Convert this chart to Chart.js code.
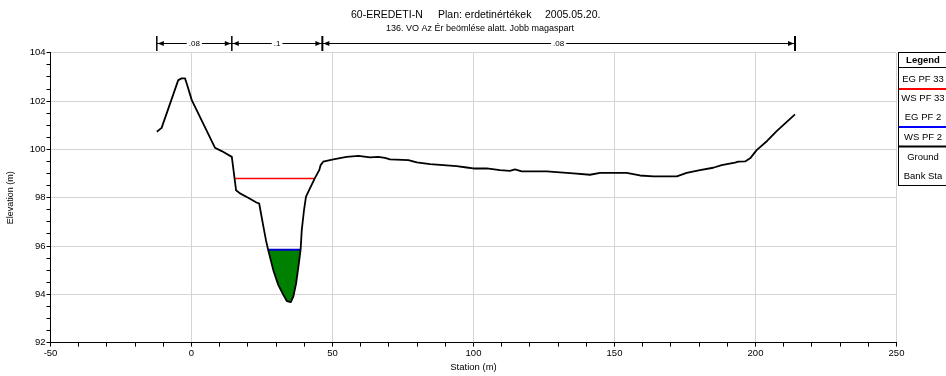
<!DOCTYPE html>
<html><head><meta charset="utf-8">
<script src="https://cdn.jsdelivr.net/npm/chart.js@4/dist/chart.umd.min.js"></script>
<style>html,body{margin:0;padding:0;background:#fff;overflow:hidden}#wrap{width:946px;height:376px;position:relative}</style>
</head><body><div id="wrap"><canvas id="c" width="946" height="376"></canvas></div>
<script>
// ---- data ----
const titleMain = ['60-EREDETI-N', 'Plan: erdetinértékek', '2005.05.20.'];
const titleSub = '136. VO Az Ér beömlése alatt. Jobb magaspart';
const xAxisTitle = 'Station (m)';
const yAxisTitle = 'Elevation (m)';

const groundSta = [-12.3, -10.6, -4.7, -3.5, -2.3, -1.7, 0.1, 8.3, 10.7, 14.3, 15.8, 17.2, 20.1, 22.9, 24.0,
  25.5, 26.4, 27.2, 29.0, 30.8, 32.6, 33.8, 35.2, 36.1, 37.1, 37.9, 38.7, 39.1, 39.9, 40.6, 42.0, 43.8, 45.3,
  45.8, 46.7, 50.3, 55.0, 59.2, 63.3, 66.2, 68.6, 70.4, 76.9, 79.9, 84.6, 89.3, 94.0, 97.6, 99.9, 104.7, 109.4,
  112.9, 114.7, 117.1, 126.0, 135.4, 141.3, 144.9, 154.3, 159.0, 163.8, 172.1, 175.6, 180.3, 185.0, 188.0,
  192.7, 193.9, 196.3, 198.1, 200.4, 204.2, 207.5, 214.0];
const groundElev = [100.73, 100.89, 102.87, 102.94, 102.94, 102.73, 102.04, 100.07, 99.93, 99.69, 98.31, 98.18,
  98.00, 97.81, 97.76, 96.80, 96.24, 95.83, 95.00, 94.38, 93.97, 93.72, 93.68, 93.90, 94.45, 95.14, 95.86, 96.66,
  97.49, 98.04, 98.39, 98.82, 99.14, 99.35, 99.49, 99.59, 99.69, 99.73, 99.67, 99.69, 99.65, 99.59, 99.56, 99.46,
  99.39, 99.35, 99.31, 99.25, 99.21, 99.21, 99.14, 99.11, 99.17, 99.09, 99.09, 99.01, 98.95, 99.03, 99.03, 98.92,
  98.88, 98.88, 99.03, 99.14, 99.24, 99.35, 99.45, 99.49, 99.50, 99.63, 99.97, 100.36, 100.76, 101.45];

// wetted channel under WS PF 2
const channelSta = [27.2, 29.0, 30.8, 32.6, 33.8, 35.2, 36.1, 37.1, 37.9, 38.7];
const channelElev = [95.84, 95.00, 94.38, 93.97, 93.72, 93.68, 93.90, 94.45, 95.14, 95.84];

const egPF33Sta = [15.5, 43.8];
const egPF33Elev = [98.8, 98.8];
const wsPF2Sta = [27.2, 38.7];
const wsPF2Elev = [95.84, 95.84];

const nBreaks = [-12.3, 14.3, 46.4, 214.0];
const nValues = ['.08', '.1', '.08'];

const legendTitle = 'Legend';
const legendLabels = ['EG PF 33', 'WS PF 33', 'EG PF 2', 'WS PF 2', 'Ground', 'Bank Sta'];

const xTickValues = [-50, -40, -30, -20, -10, 0, 10, 20, 30, 40, 50, 60, 70, 80, 90, 100, 110, 120, 130, 140, 150,
  160, 170, 180, 190, 200, 210, 220, 230, 240, 250];
const xMajorTicks = [-50, 0, 50, 100, 150, 200, 250];
const yTickValues = [92, 92.5, 93, 93.5, 94, 94.5, 95, 95.5, 96, 96.5, 97, 97.5, 98, 98.5, 99, 99.5, 100, 100.5,
  101, 101.5, 102, 102.5, 103, 103.5, 104];
const yMajorTicks = [92, 94, 96, 98, 100, 102, 104];

// ---- helpers ----
const pts = (xs, ys) => xs.map((x, i) => ({ x: x, y: ys[i] }));
const FONT = '"Liberation Sans", Arial, sans-serif';

const decor = {
  id: 'decor',
  beforeDraw(chart) {
    const c = chart.ctx; c.save(); c.fillStyle = '#fff'; c.fillRect(0, 0, chart.width, chart.height); c.restore();
  },
  afterDraw(chart) {
    const ctx = chart.ctx, xs = chart.scales.x;
    ctx.save();
    ctx.fillStyle = '#000';
    ctx.textBaseline = 'middle';
    // title
    ctx.font = '10.5px ' + FONT;
    ctx.textAlign = 'left';
    const tx = [351, 438, 545];
    titleMain.forEach((t, i) => ctx.fillText(t, tx[i], 15));
    ctx.font = '9px ' + FONT;
    ctx.textAlign = 'center';
    ctx.fillText(titleSub, 480, 29);

    // Manning's n brackets
    const ay = 43.5;
    const px = nBreaks.map(v => xs.getPixelForValue(v));
    ctx.strokeStyle = '#000';
    px.forEach((p, i) => {
      ctx.lineWidth = (i >= 2) ? 2 : 1.5;
      ctx.beginPath(); ctx.moveTo(p, 36); ctx.lineTo(p, 51); ctx.stroke();
    });
    ctx.font = '8px ' + FONT;
    for (let i = 0; i < nValues.length; i++) {
      const a = px[i], b = px[i + 1];
      ctx.lineWidth = 1;
      ctx.beginPath(); ctx.moveTo(a, ay); ctx.lineTo(b, ay); ctx.stroke();
      ctx.beginPath(); ctx.moveTo(a + 1, ay); ctx.lineTo(a + 7, ay - 2.5); ctx.lineTo(a + 7, ay + 2.5); ctx.closePath(); ctx.fill();
      ctx.beginPath(); ctx.moveTo(b - 1, ay); ctx.lineTo(b - 7, ay - 2.5); ctx.lineTo(b - 7, ay + 2.5); ctx.closePath(); ctx.fill();
      const m = (a + b) / 2, w = ctx.measureText(nValues[i]).width;
      ctx.fillStyle = '#fff'; ctx.fillRect(m - w / 2 - 2, ay - 4, w + 4, 8);
      ctx.fillStyle = '#000'; ctx.fillText(nValues[i], m, ay + 0.5);
    }

    // legend box
    ctx.lineWidth = 1;
    ctx.strokeStyle = '#000';
    ctx.strokeRect(898.5, 52.5, 60, 133);
    ctx.beginPath(); ctx.moveTo(898, 67.5); ctx.lineTo(946, 67.5); ctx.stroke();
    ctx.font = 'bold 9.5px ' + FONT;
    ctx.fillText(legendTitle, 923, 60);
    ctx.font = '9.5px ' + FONT;
    const ly = [79, 98, 117, 137, 157, 176];
    legendLabels.forEach((t, i) => ctx.fillText(t, 923, ly[i]));
    const lineY = [89, 127, 146.5];
    const lineC = ['#ff0000', '#0000ff', '#000000'];
    ctx.lineWidth = 2;
    lineY.forEach((y, i) => {
      ctx.strokeStyle = lineC[i];
      ctx.beginPath(); ctx.moveTo(899, y); ctx.lineTo(946, y); ctx.stroke();
    });
    ctx.restore();
  }
};

new Chart(document.getElementById('c'), {
  type: 'line',
  data: {
    datasets: [
      { label: 'WS PF 2 fill', data: pts(channelSta, channelElev), borderWidth: 0, borderColor: 'rgba(0,0,0,0)',
        backgroundColor: '#008000', fill: { value: wsPF2Elev[0] }, pointRadius: 0, order: 5 },
      { label: 'Ground', data: pts(groundSta, groundElev), borderColor: '#000', borderWidth: 1.8,
        pointRadius: 0, fill: false, order: 0, borderJoinStyle: 'round' },
      { label: 'EG PF 33', data: pts(egPF33Sta, egPF33Elev), borderColor: '#ff0000', borderWidth: 1.5,
        pointRadius: 0, fill: false, order: 2 },
      { label: 'WS PF 2', data: pts(wsPF2Sta, wsPF2Elev), borderColor: '#0000cc', borderWidth: 2,
        pointRadius: 0, fill: false, order: 1 }
    ]
  },
  options: {
    responsive: false,
    animation: false,
    devicePixelRatio: 1,
    layout: { padding: { top: 52.8, right: 49.5, left: 0, bottom: 0 } },
    plugins: { legend: { display: false }, tooltip: { enabled: false }, title: { display: false } },
    elements: { line: { tension: 0 } },
    scales: {
      x: {
        type: 'linear', min: -50, max: 250,
        afterBuildTicks: s => { s.ticks = xTickValues.map(v => ({ value: v })); },
        afterFit: s => { s.height = 33.4; },
        ticks: { autoSkip: false, maxRotation: 0, padding: 1, color: '#000',
          font: { family: FONT, size: 9.5 },
          callback: v => xMajorTicks.includes(v) ? String(v) : '' },
        grid: { color: c => (c.tick && xMajorTicks.includes(c.tick.value)) ? '#d4d4d4' : 'rgba(0,0,0,0)',
          tickColor: '#000', tickLength: 4, lineWidth: 1 },
        border: { color: '#000', width: 1 },
        title: { display: true, text: xAxisTitle, color: '#000', font: { family: FONT, size: 9.5 },
          padding: { top: 0, bottom: 3 } }
      },
      y: {
        type: 'linear', min: 92, max: 104,
        afterBuildTicks: s => { s.ticks = yTickValues.map(v => ({ value: v })); },
        afterFit: s => { s.width = 50.5; },
        ticks: { autoSkip: false, padding: 1, color: '#000', font: { family: FONT, size: 9.5 },
          callback: v => yMajorTicks.includes(v) ? String(v) : '' },
        grid: { color: c => (c.tick && yMajorTicks.includes(c.tick.value)) ? '#d4d4d4' : 'rgba(0,0,0,0)',
          tickColor: '#000', tickLength: 4, lineWidth: 1 },
        border: { color: '#000', width: 1 },
        title: { display: true, text: yAxisTitle, color: '#000', font: { family: FONT, size: 9 },
          padding: { top: 5, bottom: 0 } }
      }
    }
  },
  plugins: [decor]
});
</script>
</body></html>
